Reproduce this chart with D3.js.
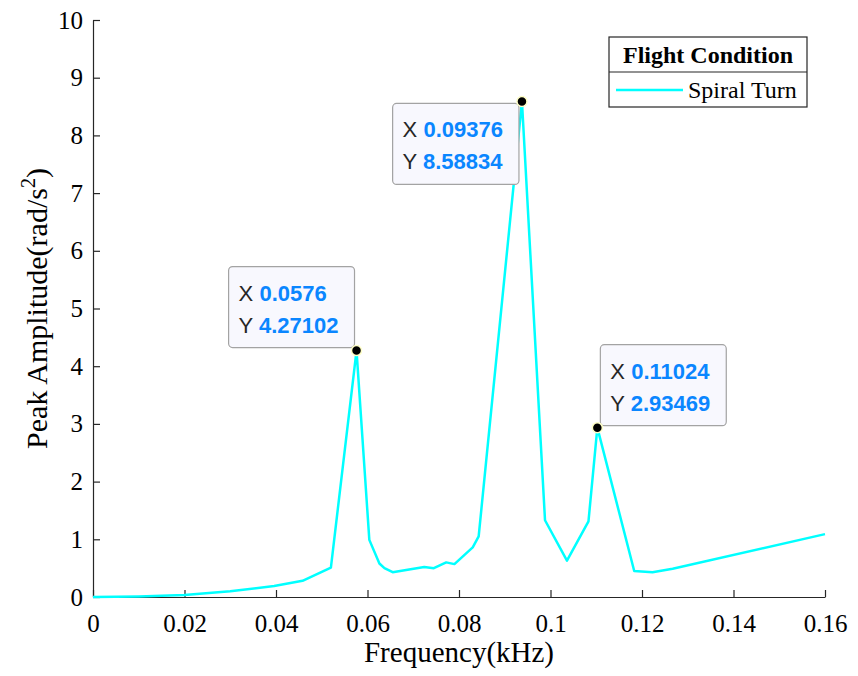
<!DOCTYPE html>
<html>
<head>
<meta charset="utf-8">
<script src="https://cdn.jsdelivr.net/npm/d3@7"></script>
<style>
  body { margin: 0; background: #fff; }
  svg text { font-family: "Liberation Serif", "Times New Roman", serif; }
  .tick text { font-size: 25px; fill: #000; }
  .tick line, .domain { stroke: #262626; }
  .tip text { font-family: "Liberation Sans", Arial, sans-serif; font-size: 22px; }
</style>
</head>
<body>
<div id="chart"></div>
<script>
// frequency (kHz) and amplitude
const freq = [0, 0.01, 0.02, 0.030, 0.0396, 0.0458, 0.052, 0.0576, 0.0604, 0.0626, 0.0637, 0.0655,
  0.0724, 0.0745, 0.0772, 0.0790, 0.0830, 0.0843, 0.09376, 0.0988, 0.1036, 0.1083, 0.11024,
  0.1183, 0.1223, 0.1267, 0.16];
const amp = [0, 0.01, 0.035, 0.10, 0.19, 0.28, 0.51, 4.27102, 0.99, 0.58, 0.50, 0.43,
  0.52, 0.50, 0.60, 0.57, 0.86, 1.05, 8.58834, 1.33, 0.63, 1.31, 2.93469,
  0.45, 0.43, 0.49, 1.09];

const peakX = [0.0576, 0.09376, 0.11024];
const peakY = [4.27102, 8.58834, 2.93469];
const peakXText = ['0.0576', '0.09376', '0.11024'];
const peakYText = ['4.27102', '8.58834', '2.93469'];
const tipSide = ['up-left', 'down-left', 'up-right'];

const xTicks = [0, 0.02, 0.04, 0.06, 0.08, 0.1, 0.12, 0.14, 0.16];
const yTicks = [0, 1, 2, 3, 4, 5, 6, 7, 8, 9, 10];
const seriesName = 'Spiral Turn';
const legendTitle = 'Flight Condition';

const w = 858, h = 676;
const padL = 93, padR = 825, padT = 20, padB = 597;

const svg = d3.select('#chart').append('svg')
  .attr('width', w).attr('height', h);

const x = d3.scaleLinear().domain([0, 0.16]).range([padL, padR]);
const y = d3.scaleLinear().domain([0, 10]).range([padB, padT]);

svg.append('g')
  .attr('transform', `translate(0, ${padB})`)
  .call(d3.axisBottom(x).tickValues(xTicks).tickFormat(d => String(+d.toFixed(2)))
    .tickSizeInner(-7).tickSizeOuter(0).tickPadding(17));

svg.append('g')
  .attr('transform', `translate(${padL}, 0)`)
  .call(d3.axisLeft(y).tickValues(yTicks).tickFormat(d3.format('d'))
    .tickSizeInner(-7).tickSizeOuter(0).tickPadding(10));

svg.selectAll('.domain').attr('stroke-width', 1.2);
svg.selectAll('.tick line').attr('stroke-width', 1.2);

svg.append('text')
  .attr('x', (padL + padR) / 2).attr('y', 662)
  .attr('text-anchor', 'middle').attr('font-size', 29)
  .text('Frequency(kHz)');

const yl = svg.append('text')
  .attr('transform', `translate(47, ${(padT + padB) / 2}) rotate(-90)`)
  .attr('text-anchor', 'middle').attr('font-size', 30);
yl.append('tspan').text('Peak Amplitude(rad/s');
yl.append('tspan').attr('font-size', 20).attr('dy', -12).text('2');
yl.append('tspan').attr('dy', 12).text(')');

const line = d3.line().x((d, i) => x(freq[i])).y(d => y(d));
svg.append('path')
  .datum(amp)
  .attr('fill', 'none')
  .attr('stroke', '#00ffff')
  .attr('stroke-width', 2.5)
  .attr('stroke-linejoin', 'round')
  .attr('d', line);

// data tips
peakX.forEach((px, i) => {
  const cx = x(px), cy = y(peakY[i]);
  const g = svg.append('g').attr('class', 'tip');
  const rect = g.append('rect');
  const t1 = g.append('text');
  t1.append('tspan').attr('fill', '#262626').text('X ');
  t1.append('tspan').attr('fill', '#0a86ff').attr('font-weight', 'bold').text(peakXText[i]);
  const t2 = g.append('text');
  t2.append('tspan').attr('fill', '#262626').text('Y ');
  t2.append('tspan').attr('fill', '#0a86ff').attr('font-weight', 'bold').text(peakYText[i]);
  const tw = Math.max(t1.node().getComputedTextLength(), t2.node().getComputedTextLength());
  const bw = tw + 26, bh = 81;
  let bx, by;
  if (tipSide[i] === 'up-left') { bx = cx - 2 - bw; by = cy - 3 - bh; }
  else if (tipSide[i] === 'down-left') { bx = cx - 3 - bw; by = cy + 2; }
  else { bx = cx + 3; by = cy - 2 - bh; }
  rect.attr('x', bx).attr('y', by).attr('width', bw).attr('height', bh)
    .attr('rx', 4).attr('fill', '#f8f8fe').attr('stroke', '#a3a3a3').attr('stroke-width', 1.2);
  t1.attr('x', bx + 10).attr('y', by + 34);
  t2.attr('x', bx + 10).attr('y', by + 66);
  g.append('circle').attr('cx', cx).attr('cy', cy).attr('r', 5)
    .attr('fill', '#000').attr('stroke', '#ffffc8').attr('stroke-width', 1.5);
});

// legend
const lg = svg.append('g');
lg.append('rect').attr('x', 609).attr('y', 37).attr('width', 198).attr('height', 70)
  .attr('fill', '#fff').attr('stroke', '#262626').attr('stroke-width', 1.2);
lg.append('line').attr('x1', 609).attr('x2', 807).attr('y1', 72).attr('y2', 72)
  .attr('stroke', '#262626').attr('stroke-width', 1.2);
lg.append('text').attr('x', 708).attr('y', 63).attr('text-anchor', 'middle')
  .attr('font-size', 24).attr('font-weight', 'bold').text(legendTitle);
lg.append('line').attr('x1', 616).attr('x2', 683).attr('y1', 90).attr('y2', 90)
  .attr('stroke', '#00ffff').attr('stroke-width', 2.5);
lg.append('text').attr('x', 688).attr('y', 98).attr('font-size', 24).text(seriesName);
</script>
</body>
</html>
